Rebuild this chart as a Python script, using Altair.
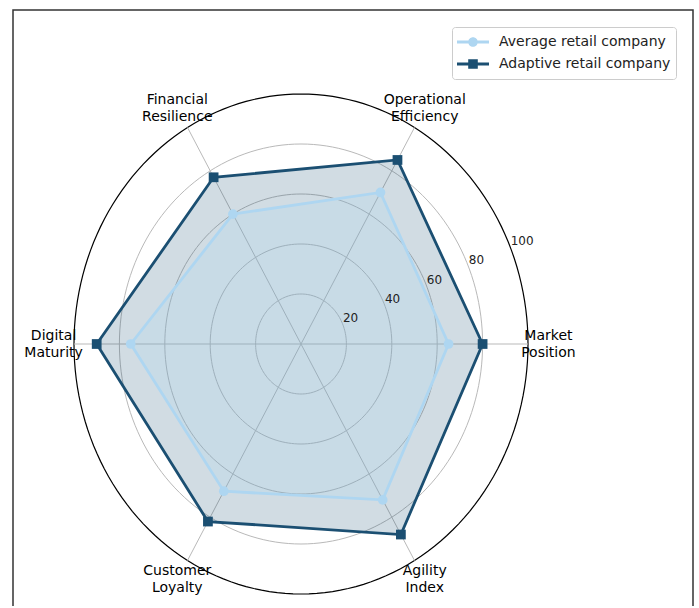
import altair as alt
import pandas as pd

# Scores per dimension, listed counter-clockwise from the right-hand axis
categories = ["Market Position", "Operational Efficiency", "Financial Resilience",
              "Digital Maturity", "Customer Loyalty", "Agility Index"]
series_names = ["Average retail company", "Adaptive retail company"]
average = [65, 70, 60, 75, 68, 72]
adaptive = [80, 85, 77, 90, 82, 88]
ring_levels = [20, 40, 60, 80, 100]
tick_labels = ["20", "40", "60", "80", "100"]

LIGHT = "#AED6F1"
DARK = "#1B4F72"
GRID = "#b9b9b9"
FONT = "DejaVu Sans"

n = len(categories)
step = 360 / n

scores = pd.DataFrame({
    "series": [series_names[0]] * n + [series_names[1]] * n,
    "category": categories * 2,
    "idx": list(range(n)) * 2,
    "value": average + adaptive,
})
axes_df = pd.DataFrame({"idx": list(range(n)),
                        "label": [c.replace(" ", "\n") for c in categories]})
rings_df = pd.DataFrame({"ring": ring_levels, "tick": tick_labels})

X = alt.X("x:Q", scale=alt.Scale(domain=[-100, 100], nice=False, zero=False), axis=None)
Y = alt.Y("y:Q", scale=alt.Scale(domain=[-100, 100], nice=False, zero=False), axis=None)

# Concentric grid rings, traced point by point around the full turn
rings = (alt.Chart(rings_df)
         .transform_calculate(deg="sequence(0, 361, 2)")
         .transform_flatten(["deg"])
         .transform_calculate(x="datum.ring*cos(datum.deg*PI/180)",
                              y="datum.ring*sin(datum.deg*PI/180)"))
grid_rings = (rings.transform_filter("datum.ring < 100")
              .mark_line(color=GRID, strokeWidth=1)
              .encode(X, Y, detail="ring:N", order="deg:Q"))
outer_ring = (rings.transform_filter("datum.ring == 100")
              .mark_line(color="black", strokeWidth=1.2)
              .encode(X, Y, order="deg:Q"))

# Spokes from the centre to the outer ring
spokes = (alt.Chart(axes_df)
          .transform_calculate(ang=f"datum.idx*{step}")
          .transform_calculate(cx="0", cy="0",
                               x="100*cos(datum.ang*PI/180)",
                               y="100*sin(datum.ang*PI/180)")
          .mark_rule(color=GRID, strokeWidth=1)
          .encode(x=alt.X("cx:Q", scale=alt.Scale(domain=[-100, 100], nice=False, zero=False), axis=None),
                  y=alt.Y("cy:Q", scale=alt.Scale(domain=[-100, 100], nice=False, zero=False), axis=None),
                  x2="x:Q", y2="y:Q"))


def profile(name):
    return (alt.Chart(scores)
            .transform_filter(alt.datum.series == name)
            .transform_calculate(ang=f"datum.idx*{step}")
            .transform_calculate(x="datum.value*cos(datum.ang*PI/180)",
                                 y="datum.value*sin(datum.ang*PI/180)"))


fill_adapt = profile(series_names[1]).mark_line(
    interpolate="linear-closed", fill=DARK, fillOpacity=0.2, strokeWidth=0
).encode(X, Y, order="idx:Q")
fill_avg = profile(series_names[0]).mark_line(
    interpolate="linear-closed", fill=LIGHT, fillOpacity=0.25, strokeWidth=0
).encode(X, Y, order="idx:Q")
line_adapt = profile(series_names[1]).mark_line(
    interpolate="linear-closed", color=DARK, strokeWidth=2.8
).encode(X, Y, order="idx:Q")
line_avg = profile(series_names[0]).mark_line(
    interpolate="linear-closed", color=LIGHT, strokeWidth=2.8
).encode(X, Y, order="idx:Q")
pts_adapt = profile(series_names[1]).mark_point(
    filled=True, shape="square", size=95, color=DARK, opacity=1
).encode(X, Y)
pts_avg = profile(series_names[0]).mark_point(
    filled=True, shape="circle", size=95, color=LIGHT, opacity=1
).encode(X, Y)

# Dimension names just outside the outer ring (two-line blocks, centred)
cat_labels = (alt.Chart(axes_df)
              .transform_calculate(ang=f"datum.idx*{step}")
              .transform_calculate(x="109*cos(datum.ang*PI/180)",
                                   y="109*sin(datum.ang*PI/180)")
              .mark_text(font=FONT, fontSize=14, color="black", lineBreak="\n",
                         lineHeight=17, align="center", baseline="middle", dy=-8.5)
              .encode(X, Y, text="label:N"))

# Radial scale labels along the 22.5 degree direction
r_labels = (alt.Chart(rings_df)
            .transform_calculate(x="datum.ring*cos(22.5*PI/180)",
                                 y="datum.ring*sin(22.5*PI/180)")
            .mark_text(font=FONT, fontSize=12, color="#222222",
                       align="left", baseline="bottom")
            .encode(X, Y, text="tick:N"))

# Legend keys: a short line with the series marker on it
circle_key = ("M -1 -0.09 L 1 -0.09 L 1 0.09 L -1 0.09 Z "
              "M 0.3 0 A 0.3 0.3 0 1 1 -0.3 0 A 0.3 0.3 0 1 1 0.3 0 Z")
square_key = ("M -1 -0.09 L 1 -0.09 L 1 0.09 L -1 0.09 Z "
              "M -0.3 -0.3 L 0.3 -0.3 L 0.3 0.3 L -0.3 0.3 Z")
legend = alt.Legend(title=None, orient="none", legendX=378, legendY=-67,
                    symbolSize=1024, symbolStrokeWidth=0, clipHeight=20,
                    rowPadding=2, padding=5, labelOffset=10, labelLimit=400,
                    labelFont=FONT, labelFontSize=14, labelColor="#222222",
                    fillColor="white", strokeColor="#cccccc", cornerRadius=3)
key = (alt.Chart(scores)
       .transform_filter("false")
       .mark_point(filled=True, size=1024, opacity=1)
       .encode(X, Y,
               color=alt.Color("series:N", scale=alt.Scale(domain=series_names, range=[LIGHT, DARK]),
                               legend=legend),
               shape=alt.Shape("series:N", scale=alt.Scale(domain=series_names, range=[circle_key, square_key]),
                               legend=legend)))

# Figure border
frame = (alt.Chart(pd.DataFrame({"k": [0]}))
         .mark_rect(fill="transparent", stroke="#333333", strokeWidth=1.5)
         .encode(x=alt.value(-61), x2=alt.value(619), y=alt.value(-84), y2=alt.value(560)))

chart = alt.layer(
    frame, grid_rings, outer_ring, spokes,
    fill_adapt, fill_avg, line_adapt, line_avg, pts_adapt, pts_avg,
    cat_labels, r_labels, key,
).properties(
    width=454, height=500,
    padding={"left": 74, "top": 94, "right": 170, "bottom": 12},
    autosize=alt.AutoSizeParams(type="none"),
    background="white",
).configure_view(stroke=None)

chart.save("out.html", embed_options={"renderer": "svg", "actions": False})
